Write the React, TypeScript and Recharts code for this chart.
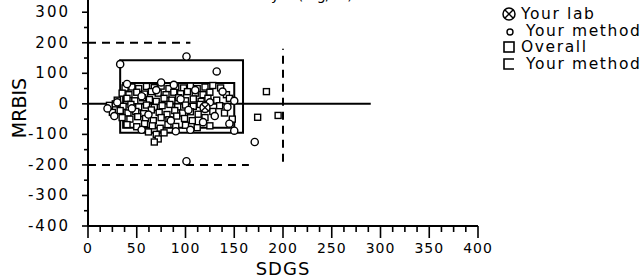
import React from 'react';
import {
  ComposedChart, Scatter, XAxis, YAxis, ReferenceLine, ReferenceArea, Legend,
} from 'recharts';

// ---------- data ----------
const xTicks: number[] = [0,12.5,25,37.5,50,62.5,75,87.5,100,112.5,125,137.5,150,162.5,175,187.5,200,212.5,225,237.5,250,262.5,275,287.5,300,312.5,325,337.5,350,362.5,375,387.5,400];
const yTicks: number[] = [-400,-350,-300,-250,-200,-150,-100,-50,0,50,100,150,200,250,300];

const overallPts: [number, number][] = [
  [38,52],[45,55],[52,50],[60,57],[68,53],[75,58],[83,50],[90,56],[98,52],[105,58],[112,50],[120,55],[128,60],[136,52],
  [35,35],[42,30],[50,38],[58,32],[65,40],[72,35],[80,30],[88,38],[95,33],[102,40],[110,35],[118,30],[125,38],[142,30],
  [30,12],[40,18],[48,10],[56,20],[63,14],[70,8],[78,18],[86,12],[93,20],[100,10],[108,16],[116,8],[123,18],[132,12],[145,18],
  [22,-5],[28,0],[36,-8],[44,-2],[52,-10],[60,-4],[68,-12],[76,-6],[84,-2],[92,-10],[100,-4],[108,-8],[115,-2],[135,-6],
  [25,-28],[33,-22],[41,-30],[49,-25],[57,-32],[65,-20],[73,-28],[81,-35],[89,-22],[97,-30],[105,-26],[113,-34],[128,-25],[140,-30],
  [35,-45],[43,-50],[51,-42],[59,-48],[67,-55],[75,-45],[83,-52],[91,-40],[99,-48],[107,-55],[120,-45],[148,-50],
  [40,-68],[50,-75],[58,-65],[66,-72],[74,-80],[82,-68],[90,-74],[100,-70],[112,-78],[125,-72],
  [62,-92],[70,-100],[72,-115],[78,-95],[68,-125],
  [183,40],[174,-44],[195,-38],
];
const methodPts: [number, number][] = [
  [30,5],[45,-15],[55,25],[62,-35],[70,45],[85,-55],[95,15],[103,-20],[110,45],[118,-60],[125,5],[130,-40],[138,40],
  [143,-10],[150,10],[27,-40],[40,65],[55,-85],[75,70],[90,-90],[105,-85],[145,-65],[150,-88],[20,-15],[88,62],
  [33,130],[132,106],[171,-125],[101,155],[101,-188],
];
const labPts: [number, number][] = [[120,-12]];

// boxes: [x1, x2, y1, y2]
const overallBox = [33, 159, -95, 143];
const methodBox = [36, 150, -78, 68];
// limit lines
const limitTop = { y: 200, x1: 0, x2: 105 };
const limitBottom = { y: -200, x1: 0, x2: 165 };
const limitRight = { x: 200, y1: -190, y2: 180 };
const zeroLine = { y: 0, x1: 0, x2: 290 };

const legendItems = [
  { label: 'Your lab', marker: 'lab' },
  { label: 'Your method', marker: 'circle' },
  { label: 'Overall', marker: 'square' },
  { label: 'Your method', marker: 'bracket' },
];

const toObj = (a: [number, number][]) => a.map(([x, y]) => ({ x, y }));
const FONT = '"DejaVu Sans", sans-serif';

// ---------- shapes ----------
const SquareShape = (p: any) => (
  <rect x={p.cx - 3} y={p.cy - 3} width={6} height={6} fill="#fff" stroke="#000" strokeWidth={1.4} />
);
const CircleShape = (p: any) => (
  <circle cx={p.cx} cy={p.cy} r={3.6} fill="#fff" stroke="#000" strokeWidth={1.4} />
);
const LabShape = (p: any) => (
  <g>
    <circle cx={p.cx} cy={p.cy} r={5} fill="#fff" stroke="#000" strokeWidth={1.4} />
    <line x1={p.cx - 3.5} y1={p.cy - 3.5} x2={p.cx + 3.5} y2={p.cy + 3.5} stroke="#000" strokeWidth={1.3} />
    <line x1={p.cx - 3.5} y1={p.cy + 3.5} x2={p.cx + 3.5} y2={p.cy - 3.5} stroke="#000" strokeWidth={1.3} />
  </g>
);

const XTick = (p: any) => {
  const v = p.payload.value;
  const major = v % 50 === 0;
  return (
    <g>
      <line x1={p.x} x2={p.x} y1={p.y} y2={p.y + (major ? 12 : 6)} stroke="#000" strokeWidth={1.6} />
      {major && (
        <text x={p.x} y={p.y + 27} textAnchor="middle" fontFamily={FONT} fontSize={14} letterSpacing={1} fill="#000">
          {v}
        </text>
      )}
    </g>
  );
};
const YTick = (p: any) => {
  const v = p.payload.value;
  const major = v % 100 === 0;
  return (
    <g>
      <line x1={p.x - (major ? 6 : 4)} x2={p.x} y1={p.y} y2={p.y} stroke="#000" strokeWidth={1.6} />
      {major && (
        <text x={p.x - 18} y={p.y + 5} textAnchor="end" fontFamily={FONT} fontSize={15} letterSpacing={2} fill="#000">
          {v}
        </text>
      )}
    </g>
  );
};

const XLabel = () => (
  <text x={283} y={275} textAnchor="middle" fontFamily={FONT} fontSize={18} letterSpacing={1} fill="#000">SDGS</text>
);
const YLabel = () => (
  <text x={26} y={108} transform="rotate(-90 26 108)" textAnchor="middle" fontFamily={FONT} fontSize={19} fill="#000">MRBIS</text>
);

const Marker = ({ kind }: { kind: string }) => (
  <svg width={18} height={16} style={{ display: 'block' }}>
    {kind === 'lab' && (
      <g>
        <circle cx={9} cy={8} r={6} fill="#fff" stroke="#000" strokeWidth={1.5} />
        <line x1={5} y1={4} x2={13} y2={12} stroke="#000" strokeWidth={1.4} />
        <line x1={5} y1={12} x2={13} y2={4} stroke="#000" strokeWidth={1.4} />
      </g>
    )}
    {kind === 'circle' && <circle cx={10} cy={9} r={3} fill="#fff" stroke="#000" strokeWidth={1.4} />}
    {kind === 'square' && <rect x={4} y={3} width={10} height={10} fill="#fff" stroke="#000" strokeWidth={1.6} />}
    {kind === 'bracket' && <path d="M14 3 H4 V13 H14" fill="none" stroke="#000" strokeWidth={1.6} />}
  </svg>
);

const LegendContent = () => (
  <div style={{ fontFamily: FONT, fontSize: 15.5, letterSpacing: 1.6, color: '#000' }}>
    {legendItems.map((it, i) => (
      <div key={i} style={{ display: 'flex', alignItems: 'center', height: 16.5, whiteSpace: 'nowrap' }}>
        <Marker kind={it.marker} />
        <span style={{ marginLeft: it.marker === 'circle' || it.marker === 'bracket' ? 8 : 3 }}>{it.label}</span>
      </div>
    ))}
  </div>
);

export default function App() {
  return (
    <div style={{ position: 'absolute', left: 0, top: 0, width: 642, height: 280, overflow: 'hidden', background: '#fff' }}>
      <div style={{ position: 'absolute', left: 240, top: -13, fontFamily: FONT, fontSize: 14, whiteSpace: 'nowrap' }}>
        Analyte (mg/dL)
      </div>
      <ComposedChart width={642} height={280} margin={{ top: 0, right: 164, bottom: 0, left: 0 }}>
        <XAxis
          type="number" dataKey="x" domain={[0, 400]} ticks={xTicks} interval={0}
          height={54} tickSize={0} tickMargin={0} tickLine={false}
          axisLine={{ stroke: '#000', strokeWidth: 2 }} tick={<XTick />} label={<XLabel />}
          allowDataOverflow
        />
        <YAxis
          type="number" dataKey="y" domain={[-400, 340]} ticks={yTicks} interval={0}
          width={88} tickSize={0} tickMargin={0} tickLine={false}
          axisLine={{ stroke: '#000', strokeWidth: 2 }} tick={<YTick />} label={<YLabel />}
          allowDataOverflow
        />
        <ReferenceArea x1={overallBox[0]} x2={overallBox[1]} y1={overallBox[2]} y2={overallBox[3]} fill="none" fillOpacity={0} stroke="#000" strokeWidth={2} />
        <ReferenceArea x1={methodBox[0]} x2={methodBox[1]} y1={methodBox[2]} y2={methodBox[3]} fill="none" fillOpacity={0} stroke="#000" strokeWidth={2} />
        <ReferenceLine segment={[{ x: limitTop.x1, y: limitTop.y }, { x: limitTop.x2, y: limitTop.y }]} stroke="#000" strokeWidth={2} strokeDasharray="8 6" />
        <ReferenceLine segment={[{ x: limitBottom.x1, y: limitBottom.y }, { x: limitBottom.x2, y: limitBottom.y }]} stroke="#000" strokeWidth={2} strokeDasharray="8 6" />
        <ReferenceLine segment={[{ x: limitRight.x, y: limitRight.y1 }, { x: limitRight.x, y: limitRight.y2 }]} stroke="#000" strokeWidth={2} strokeDasharray="8 6" />
        <ReferenceLine segment={[{ x: zeroLine.x1, y: zeroLine.y }, { x: zeroLine.x2, y: zeroLine.y }]} stroke="#000" strokeWidth={2} />
        <Scatter name="Overall" data={toObj(overallPts)} shape={SquareShape} isAnimationActive={false} />
        <Scatter name="Your method" data={toObj(methodPts)} shape={CircleShape} isAnimationActive={false} />
        <Scatter name="Your lab" data={toObj(labPts)} shape={LabShape} isAnimationActive={false} />
        <Legend
          layout="vertical" align="center" verticalAlign="middle"
          content={<LegendContent />}
          wrapperStyle={{ position: 'absolute', left: 500, top: 6, width: 180, height: 70 }}
        />
      </ComposedChart>
    </div>
  );
}
